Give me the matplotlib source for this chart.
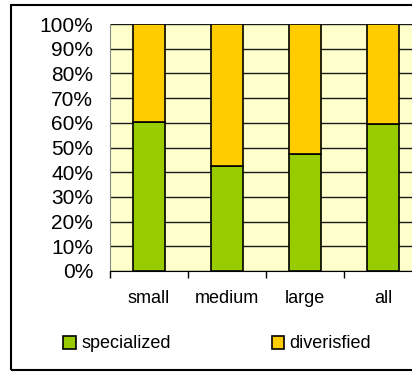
#!/usr/bin/env python3
import matplotlib
matplotlib.use('Agg')
import matplotlib.pyplot as plt
from matplotlib.patches import Rectangle, Patch
from matplotlib.ticker import FixedLocator, PercentFormatter

categories = ['small', 'medium', 'large', 'all']
specialized = [60.3, 42.6, 47.4, 59.6]
diversified = [100 - v for v in specialized]
series_names = ['specialized', 'diverisfied']
colors = ['#99CC00', '#FFCC00']


def main():
    plt.rcParams['font.family'] = ['Liberation Sans', 'DejaVu Sans']
    W, H = 412, 374
    fig = plt.figure(figsize=(W / 100, H / 100), dpi=100)

    # plot area runs past the right edge of the picture, as in the original
    left, right, top, bottom = 110, 422, 24, 271
    ax = fig.add_axes([left / W, (H - bottom) / H, (right - left) / W, (bottom - top) / H])
    ax.set_facecolor('#FFFFCC')

    x = range(len(categories))
    ax.bar(x, specialized, width=0.4, color=colors[0], edgecolor='black', linewidth=1.2, zorder=3)
    ax.bar(x, diversified, width=0.4, bottom=specialized, color=colors[1],
           edgecolor='black', linewidth=1.2, zorder=3)

    ax.set_xlim(-0.5, len(categories) - 0.5)
    ax.set_ylim(0, 100)
    ax.set_yticks(range(0, 101, 10))
    ax.yaxis.set_major_formatter(PercentFormatter(decimals=0))
    ax.grid(axis='y', color='#1a1a1a', linewidth=1.0, zorder=1)

    ax.set_xticks(list(x))
    ax.set_xticklabels(categories, fontsize=13)
    ax.xaxis.set_minor_locator(FixedLocator([i - 0.5 for i in range(len(categories) + 1)]))
    ax.tick_params(axis='x', which='major', length=0, pad=14)
    ax.tick_params(axis='x', which='minor', length=5, width=1, color='black')
    ax.tick_params(axis='y', length=0, pad=12, labelsize=15)

    for s in ['top', 'right']:
        ax.spines[s].set_visible(False)
    ax.spines['left'].set_color('#888888')
    ax.spines['bottom'].set_color('black')

    # outer chart border
    fig.patches.append(Rectangle((11 / W, 4 / H), 1.2, (H - 9) / H, transform=fig.transFigure,
                                 fill=False, edgecolor='black', linewidth=1.5, clip_on=False))

    handles = [Patch(facecolor=c, edgecolor='black', linewidth=1.2) for c in colors]
    fig.legend(handles, series_names, loc='center left', bbox_to_anchor=(63 / W, (H - 344) / H),
               ncol=2, frameon=False, fontsize=13, handlelength=0.7, handleheight=0.7,
               handletextpad=0.3, columnspacing=5.6, borderpad=0, borderaxespad=0)

    fig.savefig('out.png', dpi=100)


if __name__ == '__main__':
    main()
